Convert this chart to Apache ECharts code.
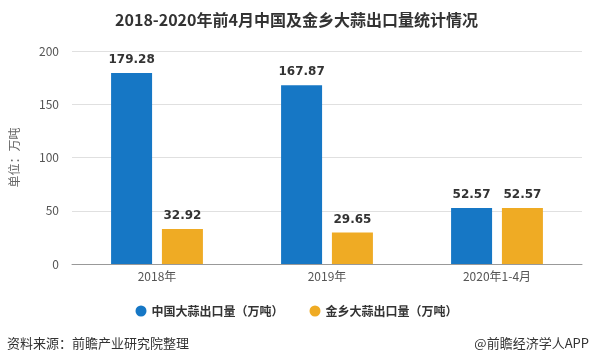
<!DOCTYPE html>
<html><head><meta charset="utf-8">
<script src="https://cdn.jsdelivr.net/npm/echarts@6/dist/echarts.min.js"></script>
<style>html,body{margin:0;padding:0;background:#fff}#c{width:593px;height:364px}</style>
</head><body><div id="c"></div>
<script>
const categories = ['2018年', '2019年', '2020年1-4月'];
const chinaExport = [179.28, 167.87, 52.57];
const jinxiangExport = [32.92, 29.65, 52.57];
const seriesNames = ['中国大蒜出口量（万吨）', '金乡大蒜出口量（万吨）'];
const yTicks = { min: 0, max: 200, interval: 50 };

const chart = echarts.init(document.getElementById('c'));
const font = '"Noto Sans CJK SC", "Microsoft YaHei", sans-serif';
const labelStyle = { show: true, position: 'top', distance: 7, fontSize: 12, fontWeight: 'bold', color: '#333', fontFamily: 'Verdana, "DejaVu Sans", sans-serif' };
chart.setOption({
  animation: false,
  textStyle: { fontFamily: font },
  title: {
    text: '2018-2020年前4月中国及金乡大蒜出口量统计情况',
    left: 'center', top: 7,
    textStyle: { fontSize: 16, fontWeight: 'bold', color: '#333', fontFamily: font }
  },
  grid: { left: 68, right: 11, top: 51, bottom: 100 },
  legend: {
    bottom: 42, left: 'center', itemGap: 26,
    icon: 'circle', itemWidth: 11, itemHeight: 11,
    textStyle: { fontSize: 12, color: '#333', fontWeight: 'bold' },
    data: seriesNames
  },
  xAxis: {
    type: 'category', data: categories,
    axisLine: { lineStyle: { color: '#999' } },
    axisTick: { alignWithLabel: true, lineStyle: { color: '#999' } },
    axisLabel: { color: '#555', fontSize: 12, margin: 6 }
  },
  yAxis: {
    type: 'value', min: yTicks.min, max: yTicks.max, interval: yTicks.interval,
    name: '单位：万吨', nameLocation: 'middle', nameGap: 52,
    nameTextStyle: { color: '#666', fontSize: 12 },
    axisLine: { show: false }, axisTick: { show: false },
    axisLabel: { color: '#555', fontSize: 12, margin: 13 },
    splitLine: { lineStyle: { color: '#e0e0e0' } }
  },
  series: [
    { name: seriesNames[0], type: 'bar', data: chinaExport, barWidth: 41, barGap: '24%',
      itemStyle: { color: '#1677c5' }, label: labelStyle },
    { name: seriesNames[1], type: 'bar', data: jinxiangExport, barWidth: 41,
      itemStyle: { color: '#efab24' }, label: labelStyle }
  ],
  graphic: [
    { type: 'text', left: 7, top: 337, style: { text: '资料来源：前瞻产业研究院整理', fontSize: 13, fill: '#333', fontFamily: font } },
    { type: 'text', right: 4, top: 337, style: { text: '@前瞻经济学人APP', fontSize: 13, fill: '#333', fontFamily: font } }
  ]
});
</script></body></html>
